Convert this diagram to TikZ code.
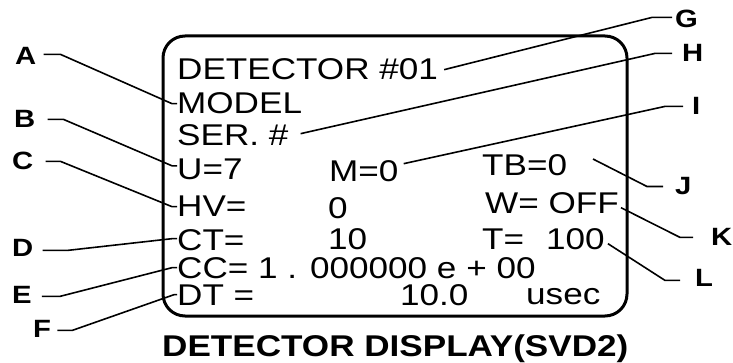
\documentclass[tikz,border=0pt]{standalone}
\usepackage{fontspec}
\newfontfamily\dispfont[FakeStretch=1.17]{Liberation Sans}
\begin{document}
\begin{tikzpicture}[x=1pt,y=-1pt,
  txt/.style={inner sep=0pt, anchor=base west, font=\dispfont\fontsize{30}{30}\selectfont},
  captxt/.style={inner sep=0pt, anchor=base west, font=\dispfont\bfseries\fontsize{30}{30}\selectfont},
  lbl/.style={inner sep=0pt, anchor=base west, font=\dispfont\bfseries\fontsize{25}{25}\selectfont},
  leader/.style={line width=1.6pt, line join=round},
  screenbox/.style={line width=3pt, rounded corners=22pt}
]
\useasboundingbox (0,0) rectangle (733,363);
% screen
\draw[screenbox] (163,36) rectangle (627,316);
% display texts
\node[txt] (det) at (177,80) {DETECTOR \#01};
\node[txt] (model) at (177,114) {MODEL};
\node[txt] (ser) at (177,146) {SER. \#};
\node[txt] (u) at (177,180) {U=7};
\node[txt] (m) at (329,182) {M=0};
\node[txt] (tb) at (482,176) {TB=0};
\node[txt] (hv) at (177,217) {HV=};
\node[txt] (hvv) at (328,219) {0};
\node[txt] (w) at (485,214) {W= OFF};
\node[txt] (ct) at (177,251) {CT=};
\node[txt] (ctv) at (328,250) {10};
\node[txt] (t) at (482,250) {T=\hspace{22pt}100};
\node[txt] (cc) at (177,278) {CC= 1 . 000000 e + 00};
\node[txt] (dt) at (177,305) {DT =};
\node[txt] (dtv) at (400,305) {10.0};
\node[txt] (usec) at (526,304) {usec};
% caption
\node[captxt] (cap) at (162,356) {DETECTOR DISPLAY(SVD2)};
% labels
\node[lbl] (lA) at (15,65) {A};
\node[lbl] (lB) at (14,128) {B};
\node[lbl] (lC) at (12,170) {C};
\node[lbl] (lD) at (12,257) {D};
\node[lbl] (lE) at (12,303) {E};
\node[lbl] (lF) at (33,337) {F};
\node[lbl] (lG) at (675,28) {G};
\node[lbl] (lH) at (682,62) {H};
\node[lbl] (lI) at (692,115) {I};
\node[lbl] (lJ) at (675,195) {J};
\node[lbl] (lK) at (711,246) {K};
\node[lbl] (lL) at (695,287) {L};
\coordinate (jEnd) at (593,159);
% left leaders
\draw[leader] ([xshift=7pt,yshift=2pt]lA.east) -- +(17,0) -- ([xshift=-5pt]model.west) -- (model.west);
\draw[leader] ([xshift=12pt]lB.east) -- +(16,0) -- ([xshift=-5pt,yshift=4pt]u.west) -- ([yshift=4pt]u.west);
\draw[leader] ([xshift=12pt]lC.east) -- +(15,0) -- ([xshift=-5pt]hv.west) -- (hv.west);
\draw[leader] ([xshift=9pt,yshift=-2pt]lD.east) -- +(25,0) -- ([xshift=-5pt,yshift=2pt]ct.west) -- ([yshift=2pt]ct.west);
\draw[leader] ([xshift=10pt,yshift=-2pt]lE.east) -- +(18,0) -- ([xshift=-5pt]cc.west) -- (cc.west);
\draw[leader] ([xshift=6pt,yshift=-2pt]lF.east) -- +(15,0) -- ([xshift=-3pt]dt.west) -- (dt.west);
% right leaders
\draw[leader] ([xshift=-3pt,yshift=2pt]lG.west) -- +(-20,0) -- ([xshift=6pt]det.east);
\draw[leader] ([xshift=-10pt]lH.west) -- +(-17,0) -- ([xshift=12pt,yshift=2pt]ser.east);
\draw[leader] ([xshift=-9pt]lI.west) -- +(-18,0) -- ([xshift=5pt,yshift=8pt]m.east);
\draw[leader] ([xshift=-12pt]lJ.west) -- +(-16,0) -- (jEnd);
\draw[leader] ([xshift=-18pt]lK.west) -- +(-13,0) -- ([xshift=2pt,yshift=-4pt]w.east);
\draw[leader] ([xshift=-15pt,yshift=-2pt]lL.west) -- +(-15,0) -- ([xshift=3pt,yshift=-4pt]t.east);
\end{tikzpicture}
\end{document}
